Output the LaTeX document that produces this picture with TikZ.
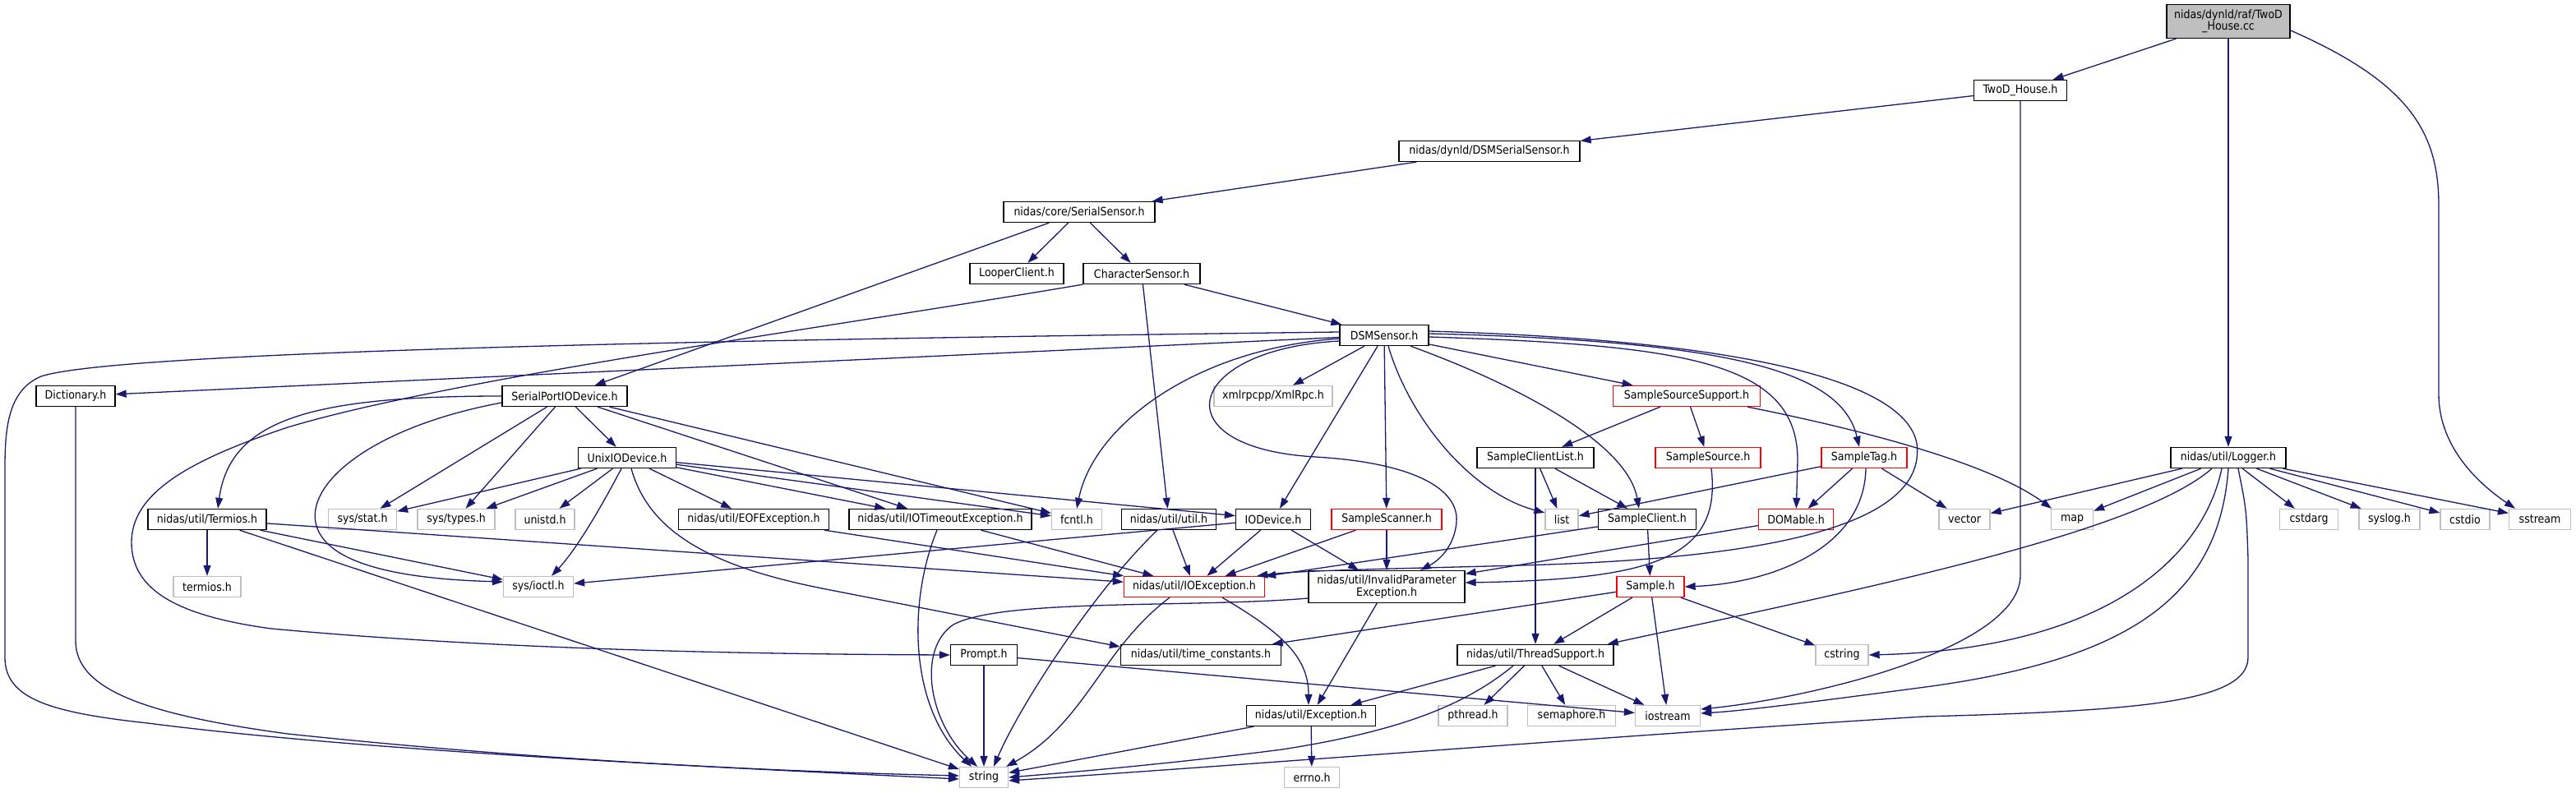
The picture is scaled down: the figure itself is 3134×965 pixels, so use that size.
\documentclass[tikz,border=0pt]{standalone}
\usepackage{fontspec}
\newfontfamily\graphfont{DejaVu Sans Condensed}
\usetikzlibrary{arrows.meta}
\definecolor{edgeblue}{HTML}{191970}
\definecolor{sysgray}{HTML}{BFBFBF}

\begin{document}
\begin{tikzpicture}[x=1pt, y=-1pt, >={Triangle[length=13pt,width=9pt]},
  every node/.style={rectangle, draw, line width=1.3pt, inner sep=0pt, minimum height=25pt, align=center, font=\graphfont\fontsize{14}{14.5}\selectfont},
  file/.style={draw=black},
  sysfile/.style={draw=sysgray},
  redfile/.style={draw=red},
  rootfile/.style={draw=black, fill=sysgray},
  dep/.style={->, draw=edgeblue, line width=1.3pt}]
\useasboundingbox (0,0) rectangle (3134,965);

% files, row by row
\node[rootfile, minimum width=150, minimum height=41] (twodcc) at (2711,26) {nidas/dynld/raf/TwoD\\\_House.cc};
\node[file, minimum width=113] (twodh) at (2458,110) {TwoD\_House.h};
\node[file, minimum width=220] (dsmserial) at (1812,184) {nidas/dynld/DSMSerialSensor.h};
\node[file, minimum width=184] (serialsensor) at (1313,258) {nidas/core/SerialSensor.h};
\node[file, minimum width=114] (looper) at (1237,333) {LooperClient.h};
\node[file, minimum width=142] (charsensor) at (1389,333) {CharacterSensor.h};
\node[file, minimum width=108] (dsmsensor) at (1684,408) {DSMSensor.h};
\node[file, minimum width=96] (dictionary) at (92,482) {Dictionary.h};
\node[file, minimum width=152] (spiodev) at (687,482) {SerialPortIODevice.h};
\node[sysfile, minimum width=144] (xmlrpc) at (1549,482) {xmlrpcpp/XmlRpc.h};
\node[redfile, minimum width=179] (srcsupport) at (2052,482) {SampleSourceSupport.h};
\node[file, minimum width=119] (unixiodev) at (763,557) {UnixIODevice.h};
\node[file, minimum width=142] (clientlist) at (1868,557) {SampleClientList.h};
\node[redfile, minimum width=128] (samplesrc) at (2078,557) {SampleSource.h};
\node[redfile, minimum width=104] (sampletag) at (2268,557) {SampleTag.h};
\node[file, minimum width=140] (logger) at (2711,557) {nidas/util/Logger.h};

\node[file, minimum width=144] (termios) at (252,632) {nidas/util/Termios.h};
\node[sysfile, minimum width=83] (sysstat) at (441,632) {sys/stat.h};
\node[sysfile, minimum width=94] (systypes) at (555,632) {sys/types.h};
\node[sysfile, minimum width=72] (unistd) at (663,632) {unistd.h};
\node[file, minimum width=183] (eofexc) at (917,632) {nidas/util/EOFException.h};
\node[file, minimum width=222] (timeoutexc) at (1144,632) {nidas/util/IOTimeoutException.h};
\node[sysfile, minimum width=61] (fcntl) at (1310,632) {fcntl.h};
\node[file, minimum width=115] (utilh) at (1422,632) {nidas/util/util.h};
\node[file, minimum width=91] (iodevice) at (1549,632) {IODevice.h};
\node[redfile, minimum width=134] (scanner) at (1687,632) {SampleScanner.h};
\node[sysfile, minimum width=40] (list) at (1900,632) {list};
\node[file, minimum width=119] (client) at (2004,632) {SampleClient.h};
\node[redfile, minimum width=91] (domable) at (2185,632) {DOMable.h};
\node[sysfile, minimum width=62] (vector) at (2390,632) {vector};
\node[sysfile, minimum width=51] (map) at (2521,632) {map};
\node[sysfile, minimum width=71] (cstdarg) at (2809,632) {cstdarg};
\node[sysfile, minimum width=74] (syslog) at (2907,632) {syslog.h};
\node[sysfile, minimum width=60] (cstdio) at (2999,632) {cstdio};
\node[sysfile, minimum width=75] (sstream) at (3090,632) {sstream};

\node[sysfile, minimum width=82] (termiosh) at (252,714) {termios.h};
\node[sysfile, minimum width=85] (ioctl) at (655,714) {sys/ioctl.h};
\node[redfile, minimum width=171] (ioexc) at (1453,714) {nidas/util/IOException.h};
\node[file, minimum width=190, minimum height=39] (invparam) at (1687,714) {nidas/util/InvalidParameter\\Exception.h};
\node[redfile, minimum width=82] (sample) at (2008,714) {Sample.h};

\node[file, minimum width=81] (prompt) at (1197,797) {Prompt.h};
\node[file, minimum width=195] (timeconst) at (1461,797) {nidas/util/time\_constants.h};
\node[file, minimum width=190] (threadsup) at (1868,797) {nidas/util/ThreadSupport.h};
\node[sysfile, minimum width=64] (cstring) at (2241,797) {cstring};

\node[file, minimum width=157] (exception) at (1595,871) {nidas/util/Exception.h};
\node[sysfile, minimum width=84] (pthread) at (1792,871) {pthread.h};
\node[sysfile, minimum width=107] (semaphore) at (1912,871) {semaphore.h};
\node[sysfile, minimum width=79] (iostream) at (2029,871) {iostream};

\node[sysfile, minimum width=59] (string) at (1197,946) {string};
\node[sysfile, minimum width=67] (errno) at (1596,946) {errno.h};

% includes
\draw[dep] (twodcc) -- (twodh);
\draw[dep] (twodcc) -- (logger);
\draw[dep] ([yshift=-11pt]twodcc.east) .. controls (2930,100) and (2967,160) .. (2967,250) -- (2967,480) .. controls (2967,540) and (3010,585) .. ([xshift=-30pt]sstream.north);
\draw[dep] (twodh) -- (dsmserial);
\draw[dep] (twodh) -- (2458,700) .. controls (2458,790) and (2200,850) .. ([yshift=8pt]iostream.east);
\draw[dep] (dsmserial) -- (serialsensor);
\draw[dep] (serialsensor) -- (spiodev);
\draw[dep] (serialsensor) -- (looper);
\draw[dep] (serialsensor) -- (charsensor);
\draw[dep] (charsensor) -- (dsmsensor);
\draw[dep] (charsensor) -- (utilh);
\draw[dep] (charsensor.south west) .. controls (1000,400) and (550,460) .. (350,520) .. controls (230,560) and (160,600) .. (160,660) .. controls (160,720) and (220,750) .. (330,765) .. controls (600,790) and (900,796) .. (prompt.west);

\draw[dep] (dsmsensor) -- (dictionary);
\draw[dep] ([yshift=4pt]dsmsensor.west) .. controls (1000,412) and (150,425) .. (50,458) .. controls (10,475) and (6,520) .. (6,570) -- (6,800) .. controls (6,850) and (60,867) .. (180,880) .. controls (450,915) and (900,935) .. ([yshift=-2pt]string.west);
\draw[dep] (dsmsensor) -- (xmlrpc);
\draw[dep] ([yshift=-4pt]dsmsensor.west) .. controls (1450,425) and (1330,520) .. (fcntl.north);
\draw[dep] ([yshift=-7pt]dsmsensor.west) .. controls (1440,425) and (1410,545) .. (1600,556) .. controls (1720,563) and (1775,595) .. (1772,635) .. controls (1769,670) and (1745,685) .. ([xshift=41pt]invparam.north);
\draw[dep] (dsmsensor) -- (iodevice);
\draw[dep] (dsmsensor) -- (scanner);
\draw[dep] ([xshift=5pt]dsmsensor.south) .. controls (1715,510) and (1790,600) .. ([yshift=8pt]list.west);
\draw[dep] ([xshift=32pt]dsmsensor.south) .. controls (1850,470) and (1980,540) .. ([xshift=-10pt]client.north);
\draw[dep] (dsmsensor) -- (srcsupport);
\draw[dep] ([yshift=-2pt]dsmsensor.east) .. controls (2050,420) and (2187,440) .. (2187,560) -- (domable);
\draw[dep] ([yshift=2pt]dsmsensor.east) .. controls (2100,415) and (2240,450) .. ([xshift=-6pt]sampletag.north);
\draw[dep] ([yshift=5pt]dsmsensor.east) .. controls (2150,415) and (2320,470) .. (2332,540) .. controls (2345,640) and (2150,680) .. (1850,688) .. controls (1700,692) and (1580,694) .. ([xshift=-10pt]ioexc.north east);

\draw[dep] (srcsupport) -- (clientlist);
\draw[dep] (srcsupport) -- (samplesrc);
\draw[dep] ([xshift=74pt]srcsupport.south) .. controls (2300,530) and (2430,570) .. ([xshift=-25pt]map.north);
\draw[dep] (clientlist) -- (list);
\draw[dep] (clientlist) -- (client);
\draw[dep] (clientlist) -- (threadsup);
\draw[dep] ([xshift=4pt]samplesrc.south) .. controls (2095,680) and (2010,705) .. ([yshift=5pt]invparam.east);
\draw[dep] (sampletag) -- (list);
\draw[dep] (sampletag) -- (domable);
\draw[dep] (sampletag) -- (vector);
\draw[dep] ([xshift=2pt]sampletag.south) .. controls (2268,670) and (2150,710) .. (sample.east);
\draw[dep] (domable) -- (invparam);
\draw[dep] (client) -- (sample);
\draw[dep] (client) -- (ioexc);
\draw[dep] (sample) -- (threadsup);
\draw[dep] (sample) -- (iostream);
\draw[dep] (sample) -- (cstring);
\draw[dep] (sample) -- (timeconst);

\draw[dep] (logger) -- (vector);
\draw[dep] (logger) -- (map);
\draw[dep] (logger) -- (cstdarg);
\draw[dep] (logger) -- (syslog);
\draw[dep] (logger) -- (cstdio);
\draw[dep] (logger) -- (sstream);
\draw[dep] ([xshift=-20pt]logger.south) .. controls (2600,650) and (2250,720) .. ([xshift=-8pt]threadsup.north east);
\draw[dep] ([xshift=-8pt]logger.south) .. controls (2680,680) and (2560,790) .. (cstring.east);
\draw[dep] (logger.south) .. controls (2700,720) and (2600,800) .. (2350,835) .. controls (2200,855) and (2120,865) .. ([yshift=3pt]iostream.east);
\draw[dep] ([xshift=12pt]logger.south) .. controls (2733,620) .. (2735,680) -- (2735,800) .. controls (2735,855) and (2600,865) .. (2340,872) .. controls (2000,893) and (1500,932) .. ([yshift=-4pt]string.east);

\draw[dep] (threadsup) -- (exception);
\draw[dep] (threadsup) -- (pthread);
\draw[dep] (threadsup) -- (semaphore);
\draw[dep] (threadsup) -- (iostream);
\draw[dep] ([xshift=-27pt]threadsup.south) .. controls (1780,860) and (1700,890) .. (1560,912) .. controls (1420,930) and (1300,940) .. (string.east);

\draw[dep] (spiodev.west) .. controls (380,482) and (280,510) .. ([xshift=13pt]termios.north);
\draw[dep] ([yshift=-8pt]spiodev.west) .. controls (450,520) and (370,590) .. (385,640) .. controls (400,690) and (500,705) .. ([yshift=6pt]ioctl.west);
\draw[dep] (spiodev) -- (sysstat);
\draw[dep] (spiodev) -- (systypes);
\draw[dep] (spiodev) -- (unixiodev);
\draw[dep] (spiodev) -- (timeoutexc);
\draw[dep] (spiodev) -- (fcntl);

\draw[dep] (unixiodev) -- (sysstat);
\draw[dep] (unixiodev) -- (systypes);
\draw[dep] (unixiodev) -- (unistd);
\draw[dep] ([xshift=-7pt]unixiodev.south) .. controls (730,620) and (700,670) .. ([xshift=16pt]ioctl.north);
\draw[dep] ([xshift=5pt]unixiodev.south) .. controls (790,650) and (870,690) .. (1000,716) -- ([yshift=10pt]timeconst.west);
\draw[dep] (unixiodev) -- (eofexc);
\draw[dep] (unixiodev) -- (timeoutexc);
\draw[dep] (unixiodev) -- (fcntl);
\draw[dep] (unixiodev) -- (iodevice);

\draw[dep] (termios) -- (termiosh);
\draw[dep] (termios) -- (ioctl);
\draw[dep] (termios) -- (ioexc);
\draw[dep] (termios) -- (string);
\draw[dep] (dictionary) -- (92,780) .. controls (92,840) and (180,870) .. (350,893) .. controls (700,930) and (1000,940) .. ([yshift=2pt]string.west);

\draw[dep] (eofexc) -- (ioexc);
\draw[dep] (timeoutexc) -- (ioexc);
\draw[dep] ([xshift=-4pt]timeoutexc.south) .. controls (1105,730) and (1105,860) .. ([xshift=-15pt]string.north);
\draw[dep] (utilh) -- (ioexc);
\draw[dep] ([xshift=-14pt]utilh.south) .. controls (1330,720) and (1240,860) .. ([xshift=12pt]string.north);
\draw[dep] (iodevice) -- (ioexc);
\draw[dep] (iodevice) -- (invparam);
\draw[dep] (iodevice) -- (ioctl);
\draw[dep] (scanner) -- (ioexc);
\draw[dep] (scanner) -- (invparam);

\draw[dep] ([xshift=-30pt]ioexc.south) .. controls (1340,790) and (1320,880) .. ([xshift=-3pt]string.north east);
\draw[dep] ([xshift=34pt]ioexc.south) .. controls (1560,770) and (1592,800) .. ([xshift=-3pt]exception.north);
\draw[dep] (invparam) -- (exception);
\draw[dep] ([yshift=-14pt]invparam.west) .. controls (1450,740) and (1220,728) .. (1160,760) .. controls (1115,790) and (1130,880) .. ([xshift=-8pt]string.north);
\draw[dep] (prompt) -- (string);
\draw[dep] (prompt) -- (iostream);
\draw[dep] (exception) -- (errno);
\draw[dep] (exception) -- (string);
\end{tikzpicture}
\end{document}
